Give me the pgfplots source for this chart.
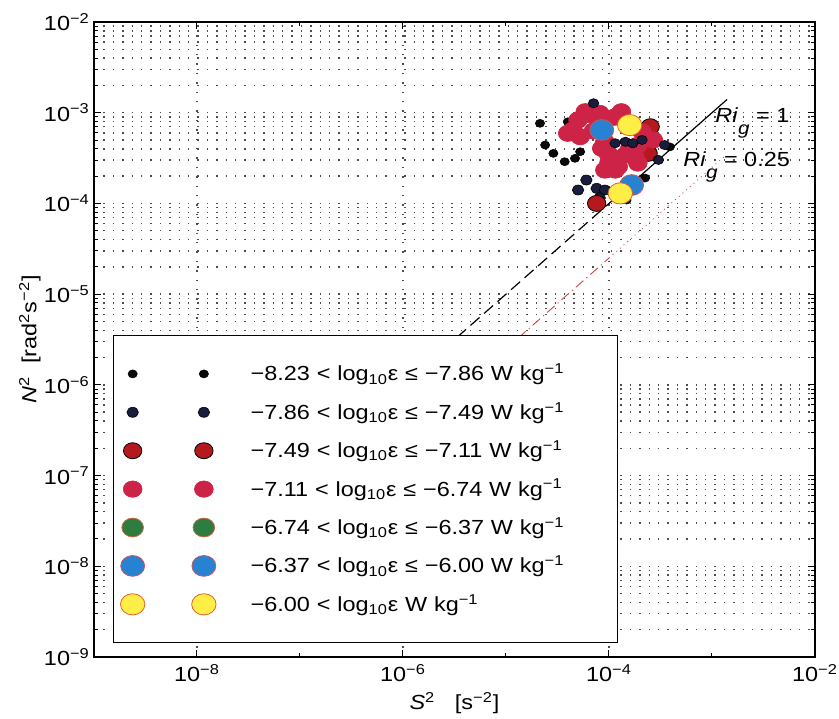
\documentclass[border=0pt]{standalone}
\usepackage{fontspec}
\setmainfont{Liberation Sans}[FakeStretch=1.15]
\usepackage{pgfplots}
\pgfplotsset{compat=1.18}
\definecolor{c1}{RGB}{10,10,10}
\definecolor{c2}{RGB}{25,28,60}
\definecolor{c3}{RGB}{180,25,30}
\definecolor{c4}{RGB}{205,35,70}
\definecolor{c5}{RGB}{45,125,65}
\definecolor{c5e}{RGB}{195,105,70}
\definecolor{c6}{RGB}{40,130,210}
\definecolor{c6e}{RGB}{200,85,90}
\definecolor{c7}{RGB}{255,238,70}
\definecolor{c7e}{RGB}{220,100,40}
\definecolor{rline}{RGB}{210,70,70}
\begin{document}
\fontsize{10.2}{12}\selectfont
\begin{tikzpicture}
\begin{axis}[
  scale only axis, width=360.5pt, height=317.5pt,
  xmode=log, ymode=log,
  xmin=1e-9, xmax=1e-2, ymin=1e-9, ymax=1e-2,
  axis line style={line width=0.65pt},
  tick style={black, line width=0.5pt},
  major tick length=3.5pt, minor tick length=2pt,
  tick pos=both, tick align=inside,
  xtick={1e-8,1e-6,1e-4,1e-2},
  xticklabels={10\textsuperscript{−8},10\textsuperscript{−6},10\textsuperscript{−4},10\textsuperscript{−2}},
  minor xtick={1e-9,1e-7,1e-5,1e-3},
  ytick={1e-9,1e-8,1e-7,1e-6,1e-5,1e-4,1e-3,1e-2},
  yticklabels={10\textsuperscript{−9},10\textsuperscript{−8},10\textsuperscript{−7},10\textsuperscript{−6},10\textsuperscript{−5},10\textsuperscript{−4},10\textsuperscript{−3},10\textsuperscript{−2}},
  minor ytick={2e-9,3e-9,4e-9,5e-9,6e-9,7e-9,8e-9,9e-9,
    2e-8,3e-8,4e-8,5e-8,6e-8,7e-8,8e-8,9e-8,
    2e-7,3e-7,4e-7,5e-7,6e-7,7e-7,8e-7,9e-7,
    2e-6,3e-6,4e-6,5e-6,6e-6,7e-6,8e-6,9e-6,
    2e-5,3e-5,4e-5,5e-5,6e-5,7e-5,8e-5,9e-5,
    2e-4,3e-4,4e-4,5e-4,6e-4,7e-4,8e-4,9e-4,
    2e-3,3e-3,4e-3,5e-3,6e-3,7e-3,8e-3,9e-3},
  xmajorgrids=true, ymajorgrids=true, yminorgrids=true,
  major grid style={black!70, line width=0.7pt, dash pattern=on 0.7pt off 4pt},
  minor grid style={black!70, line width=0.7pt, dash pattern=on 0.7pt off 4pt},
  yticklabel style={xshift=1.5pt},
  every axis y label/.style={at={(axis description cs:-0.089,0.5)}, rotate=90, anchor=center},
  every axis x label/.style={at={(axis description cs:0.5,0)}, anchor=center, yshift=-23pt},
  ylabel={\textit{N}\textsuperscript{2}\ \ [rad\textsuperscript{2}s\textsuperscript{−2}]},
  xlabel={\textit{S}\textsuperscript{2}\ \ \ [s\textsuperscript{−2}]},
  legend cell align=left,
  legend image code/.code={%
    \draw[#1] plot[only marks] coordinates {(0pt,0pt) (35.6pt,0pt)};
    \path[draw=none,fill=none] (-9.5pt,-9.6pt) rectangle (59pt,9.6pt);},
  legend style={at={(0.0264,0.507)}, anchor=north west,
    draw=black, line width=0.65pt, fill=white,
    inner xsep=0pt, inner ysep=9.5pt, column sep=0pt, row sep=0pt,
    nodes={inner sep=0pt, text width=183.5pt, align=left}},
]
\coordinate (bl) at (rel axis cs:0,0);
\coordinate (tr) at (rel axis cs:1,1);
% class 1
\addplot[only marks, mark=*, mark size=2.0pt, mark options={xscale=1.15, draw=black, fill=c1, line width=0.3pt}]
coordinates {(2.138e-5,7.64e-4) (2.399e-5,4.406e-4) (2.884e-5,3.565e-4) (3.715e-5,2.884e-4)
 (4.677e-5,3.141e-4) (5.248e-5,3.715e-4) (3.981e-5,7.943e-4)
 (2.239e-4,1.905e-4) (2.570e-4,7.015e-4) (1.479e-4,1.089e-4) (3.9e-4,4.2e-4)};
\addlegendentry{−8.23 < log\textsubscript{10}ε ≤ −7.86 W kg\textsuperscript{−1}}
% class 2
\addplot[only marks, mark=*, mark size=2.5pt, mark options={xscale=1.15, draw=black, fill=c2, line width=0.3pt}]
coordinates {(6.026e-5,1.811e-4) (5.012e-5,1.406e-4) (7.586e-5,1.466e-4) (9.120e-5,1.406e-4)
 (8.128e-5,1.148e-4)};
\addlegendentry{−7.86 < log\textsubscript{10}ε ≤ −7.49 W kg\textsuperscript{−1}}
% class 3
\addplot[only marks, mark=*, mark size=4.0pt, mark options={xscale=1.15, draw=black, fill=c3, line width=0.4pt}]
coordinates {(2.512e-4,7.015e-4) (7.586e-5,1.0e-4) (2.399e-4,3.565e-4)};
\addlegendentry{−7.49 < log\textsubscript{10}ε ≤ −7.11 W kg\textsuperscript{−1}}
% class 4
\addplot[only marks, mark=*, mark size=4.1pt, mark options={xscale=1.15, draw=c4, fill=c4, line width=0.3pt}]
coordinates {(5.888e-5,1.026e-3) (4.467e-5,6.457e-4) (5.248e-5,5.445e-4) (8.128e-5,9.840e-4)
 (1.318e-4,1.026e-3) (9.120e-5,4.786e-4) (9.772e-5,3.565e-4) (8.511e-5,4.046e-4)
 (1.148e-4,2.333e-4) (9.120e-5,2.333e-4) (1.445e-4,3.420e-4) (1.778e-4,3.273e-4)
 (2.692e-4,5.012e-4) (2.089e-4,6.166e-4) (6.761e-5,9.441e-4) (5.012e-5,8.318e-4)
 (1.230e-4,2.541e-4) (3.981e-5,5.929e-4) (1.585e-4,3.981e-4) (1.905e-4,4.365e-4)
 (7.079e-5,6.310e-4) (1.122e-4,8.913e-4) (1.0e-4,2.818e-4) (1.905e-4,2.786e-4)};
\addlegendentry{−7.11 < log\textsubscript{10}ε ≤ −6.74 W kg\textsuperscript{−1}}
% dark points plotted later (on top of the red ones)
\addplot[only marks, mark=*, mark size=2.3pt, mark options={xscale=1.15, draw=black, fill=c2, line width=0.3pt}, forget plot]
coordinates {(1.148e-4,4.603e-4) (1.445e-4,4.786e-4) (1.7e-4,4.6e-4) (2.089e-4,5.012e-4)
 (7.079e-5,1.271e-3) (3.467e-4,4.406e-4) (3.020e-4,3.020e-4)};
% class 5 (legend only)
\addlegendimage{only marks, mark=*, mark size=4.7pt, mark options={xscale=1.15, draw=c5e, fill=c5, line width=0.4pt}}
\addlegendentry{−6.74 < log\textsubscript{10}ε ≤ −6.37 W kg\textsuperscript{−1}}
% class 6
\addplot[only marks, mark=*, mark size=5.2pt, mark options={xscale=1.15, draw=c6e, fill=c6, line width=0.4pt}]
coordinates {(8.511e-5,6.457e-4) (1.660e-4,1.596e-4)};
\addlegendentry{−6.37 < log\textsubscript{10}ε ≤ −6.00 W kg\textsuperscript{−1}}
% class 7
\addplot[only marks, mark=*, mark size=5.3pt, mark options={xscale=1.15, draw=c7e, fill=c7, line width=0.4pt}]
coordinates {(1.585e-4,7.311e-4) (1.288e-4,1.291e-4)};
\addlegendentry{−6.00 < log\textsubscript{10}ε W kg\textsuperscript{−1}}
% Richardson lines
\addplot[black, line width=0.6pt, dash pattern=on 6pt off 3pt, forget plot] coordinates {(1e-6,1e-6) (1.26e-4,1.26e-4)};
\addplot[black, line width=0.6pt, forget plot] coordinates {(1.26e-4,1.26e-4) (1.40e-3,1.40e-3)};
\addplot[rline, line width=0.45pt, dash pattern=on 5pt off 2pt on 0.6pt off 2pt, forget plot] coordinates {(1e-6,2.5e-7) (1e-4,2.5e-5)};
\addplot[rline, line width=0.45pt, dotted, forget plot] coordinates {(1e-4,2.5e-5) (1.35e-3,3.375e-4)};
\node[anchor=base west, inner sep=0pt] at (axis cs:1.069e-3,7.88e-4) {\textit{Ri}\raisebox{-6pt}{\fontsize{9}{10}\selectfont\textit{g}}\ = 1};
\node[anchor=base west, inner sep=0pt] at (axis cs:5.22e-4,2.58e-4) {\textit{Ri}\raisebox{-6pt}{\fontsize{9}{10}\selectfont\textit{g}}\ = 0.25};
\end{axis}
\pgfresetboundingbox
\path[use as bounding box] (bl) ++(-47pt,-30.5pt) rectangle ([shift={(12pt,11pt)}]tr);
\end{tikzpicture}
\end{document}
